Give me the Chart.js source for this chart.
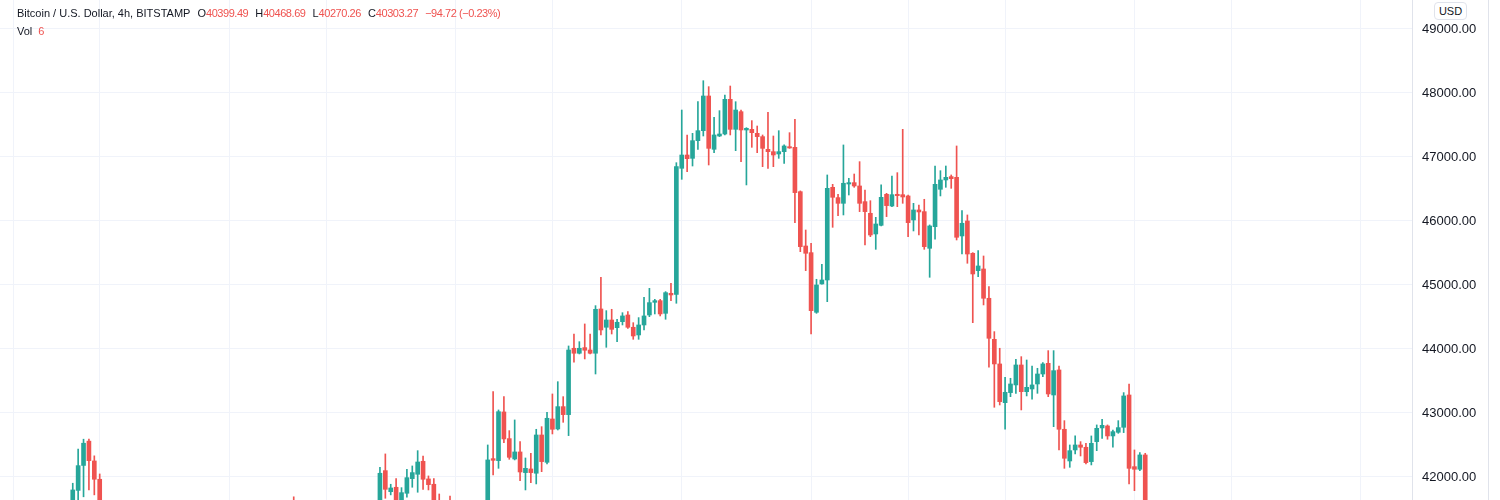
<!DOCTYPE html>
<html>
<head>
<meta charset="utf-8">
<script src="https://cdn.jsdelivr.net/npm/chart.js@4"></script>
<style>
	body { margin: 0; background: #ffffff; }
	#wrap { position: relative; width: 1500px; height: 500px; overflow: hidden; }
	#legend { position: absolute; left: 17px; top: 4px; font-family: "Liberation Sans", Arial, sans-serif; font-size: 11px; line-height: 18px; color: #131722; white-space: nowrap; }
	#legend .v { color: #ef5350; letter-spacing: -0.45px; }
	#legend .g { margin-left: 7px; }
	#usd { position: absolute; left: 1434px; top: 2px; width: 31px; height: 16px; border: 1px solid #e0e3eb; border-radius: 4px; font-family: "Liberation Sans", Arial, sans-serif; font-size: 11px; line-height: 16px; text-align: center; color: #131722; background: #fff; }
	#edge { position: absolute; left: 1488px; top: 0; width: 1px; height: 500px; background: #e0e3eb; }
</style>
</head>
<body>
<div id="wrap">
	<canvas id="chart-btc" width="1500" height="500"></canvas>
	<div id="legend">
		<div>Bitcoin / U.S. Dollar, 4h, BITSTAMP<span class="g">O<span class="v">40399.49</span></span><span class="g">H<span class="v">40468.69</span></span><span class="g">L<span class="v">40270.26</span></span><span class="g">C<span class="v">40303.27</span></span><span class="g v">−94.72 (−0.23%)</span></div>
		<div>Vol<span class="g v" style="margin-left:6px">6</span></div>
	</div>
	<div id="usd">USD</div>
	<div id="edge"></div>
</div>
<script>
// 4h bars, index = bar number. null = bar sits completely below the visible price range
const hidden = (n) => Array(n).fill(null);

const opens = [
	...hidden(13),
	41550, 41790, 42180, 42560, 42250, 41964,
	...hidden(35),
	41600,
	...hidden(15),
	41500, 42099, 41770, 41839, 41500, 41745, 41974, 42042, 42245, 41969, 41886, 41600,
	null,
	41600,
	...hidden(6),
	41600, 42286, 42255, 43016, 42599, 42281, 42391, 42068, 42125, 42058,
	42656, 42229, 42906, 42750, 43099, 42974, 44011, 43933, 44021, 43984,
	43933, 44625, 44339, 44453, 44333, 44427, 44531, 44339, 44219, 44375,
	44531, 44729, 44755, 44557, 44870, 44854, 46823, 47031, 46979, 47255,
	47411, 47953, 47120, 47328, 47359, 47901, 47432, 47708, 47422, 47432,
	47370, 47318, 47120, 47083, 47047, 47083, 47161, 47151, 46458, 45609,
	45505, 44573, 45016, 45078, 46526, 46365, 46276, 46578, 46599, 46547,
	46302, 46120, 45797, 45932, 46417, 46234, 46417, 46411, 46391, 46016,
	46172, 46146, 45573, 45911, 46495, 46641, 46693, 46682, 45766, 46000,
	45495, 45224, 45250, 44792, 44151, 43766, 43161, 43318, 43438, 43750,
	43333, 43375, 43453, 43609, 43776, 43281, 43672, 42745, 42250, 42422,
	42500, 42464, 42240, 42552, 42766, 42797, 42641, 42698, 42776, 43281,
	42161, 42120, 42344
];
const highs = [
	...hidden(13),
	41902, 42437, 42590, 42590, 42330, 42047,
	...hidden(35),
	41690,
	...hidden(15),
	42152, 42360, 41886, 41974, 41833, 42120, 42172, 42411, 42328, 42016, 41974, 41734,
	null,
	41700,
	...hidden(6),
	42500, 43333, 43047, 43255, 42724, 42891, 42552, 42297, 42370, 42745,
	42786, 43010, 43297, 43489, 43255, 44047, 44234, 44114, 44391, 44234,
	44677, 45120, 44599, 44620, 44464, 44567, 44583, 44411, 44490, 44808,
	44948, 44776, 44776, 44896, 45026, 46911, 47734, 47344, 47370, 47864,
	48192, 48099, 47620, 47724, 47969, 48109, 47864, 47734, 47458, 47568,
	47484, 47344, 47698, 47328, 47411, 47188, 47380, 47589, 46470, 45859,
	45651, 45089, 45323, 46719, 46573, 46417, 47188, 46667, 46734, 46927,
	46484, 46317, 46057, 46563, 46432, 46703, 46755, 47432, 46406, 46276,
	46250, 46339, 45938, 46859, 46786, 46859, 46719, 47172, 46161, 46094,
	45505, 45536, 45453, 44974, 44271, 44011, 43557, 43542, 43839, 43880,
	43828, 43734, 43698, 43786, 43974, 43974, 43734, 42880, 42500, 42641,
	42552, 42526, 42641, 42813, 42901, 42813, 42734, 42880, 43318, 43453,
	42422, 42380, 42370
];
const lows = [
	...hidden(13),
	41480, 41600, 41690, 41797, 41720, 41400,
	...hidden(35),
	41400,
	...hidden(15),
	41400, 41667, 41720, 41450, 41420, 41683, 41839, 41761, 41807, 41797, 41500, 41400,
	null,
	41350,
	...hidden(6),
	41500, 42031, 42135, 42536, 42276, 42266, 41943, 41797, 41911, 41891,
	42083, 42203, 42672, 42734, 42854, 42646, 43792, 43922, 43844, 43922,
	43609, 44219, 44026, 44234, 44114, 44375, 44323, 44151, 44151, 44297,
	44505, 44547, 44516, 44464, 44755, 44714, 46651, 46771, 46859, 47120,
	47328, 46875, 47067, 47318, 47344, 47344, 47099, 46927, 46563, 47151,
	47067, 46849, 46823, 46849, 46979, 46901, 47135, 45974, 45520, 45224,
	44234, 44557, 45011, 44739, 45901, 46083, 46094, 46406, 46526, 46146,
	45625, 45755, 45557, 45922, 46068, 46224, 46224, 46276, 45755, 45844,
	45781, 45557, 45120, 45714, 46391, 46526, 46510, 45703, 45484, 45339,
	44411, 45130, 44688, 43714, 43089, 43125, 42745, 43255, 43307, 43047,
	43266, 43214, 43307, 43568, 43255, 42786, 42422, 42135, 42151, 42359,
	42328, 42203, 42188, 42411, 42604, 42589, 42464, 42682, 42693, 41891,
	41786, 42099, 41300
];
const closes = [
	...hidden(13),
	41797, 42177, 42527, 42255, 41964, 41500,
	...hidden(35),
	41450,
	...hidden(15),
	42058, 41807, 41828, 41550, 41755, 41989, 42068, 42234, 41964, 41880, 41600, 41500,
	null,
	41450,
	...hidden(6),
	42266, 42260, 43020, 42594, 42307, 42391, 42078, 42135, 42068, 42656,
	42240, 42917, 42745, 43099, 42974, 43984, 43933, 44011, 43980, 43933,
	44620, 44297, 44453, 44307, 44417, 44516, 44339, 44203, 44375, 44516,
	44724, 44755, 44547, 44880, 44844, 46849, 47031, 46974, 47255, 47411,
	47953, 47135, 47344, 47359, 47901, 47432, 47734, 47422, 47448, 47380,
	47318, 47135, 47083, 47031, 47083, 47172, 47141, 46443, 45599, 45495,
	44599, 45000, 45078, 46510, 46370, 46276, 46589, 46599, 46547, 46276,
	46146, 45781, 45953, 46370, 46240, 46411, 46396, 46375, 45974, 46172,
	46141, 45599, 45922, 46573, 46641, 46682, 46661, 45745, 45964, 45484,
	45172, 45297, 44792, 44167, 43766, 43177, 43323, 43453, 43750, 43333,
	43401, 43438, 43609, 43766, 43297, 43661, 42745, 42292, 42411, 42500,
	42464, 42224, 42526, 42760, 42807, 42641, 42708, 42771, 43266, 42135,
	42120, 42344, 41500
];

// price scale ticks and the bars where a new day label / vertical grid line sits
const priceTicks = [42000, 43000, 44000, 45000, 46000, 47000, 48000, 49000];
const gridBars = [2, 18, 42, 60, 84, 102, 126, 150, 168, 186, 210, 228, 252];

const totalBars = 262; // includes the empty space on the right
const labels = Array.from({ length: totalBars }, (_, i) => String(i));

const upColor = '#26a69a';
const downColor = '#ef5350';

const bodies = opens.map((o, i) => (o == null ? null : [o, closes[i]]));
const wicks = lows.map((l, i) => (l == null ? null : [l, highs[i]]));
const colors = opens.map((o, i) => (closes[i] >= o ? upColor : downColor));

// no label overhang padding, the plot runs edge to edge like the original
function noPadding(scale) {
	scale.paddingTop = 0;
	scale.paddingBottom = 0;
	scale.paddingLeft = 0;
	scale.paddingRight = 0;
}

let btcChartCtx = document.getElementById('chart-btc');
let btcChart = new Chart(btcChartCtx, {
	type: 'bar',
	data: {
		labels: labels,
		datasets: [{
			label: 'body',
			data: bodies,
			backgroundColor: colors,
			borderWidth: 0,
			barThickness: 4,
			minBarLength: 1,
			grouped: false
		}, {
			label: 'wick',
			data: wicks,
			backgroundColor: colors,
			borderWidth: 0,
			barThickness: 1,
			grouped: false
		}]
	},
	options: {
		responsive: false,
		animation: false,
		layout: { padding: 0 },
		plugins: {
			legend: { display: false },
			tooltip: { enabled: false }
		},
		scales: {
			x: {
				offset: true,
				border: { display: false },
				grid: {
					offset: false,
					drawTicks: false,
					color: (ctx) => (gridBars.includes(ctx.index) ? '#f0f3fa' : 'rgba(0,0,0,0)')
				},
				ticks: { display: false, autoSkip: false },
				afterFit: (scale) => { scale.height = 0; noPadding(scale); }
			},
			y: {
				position: 'right',
				min: 41640,
				max: 49453,
				afterBuildTicks: (scale) => {
					scale.ticks = priceTicks.map((v) => ({ value: v }));
				},
				afterFit: (scale) => { scale.width = 88; noPadding(scale); },
				border: { color: '#e0e3eb' },
				grid: { color: '#f0f3fa', drawTicks: false },
				ticks: {
					padding: 10,
					color: '#131722',
					font: { family: 'Liberation Sans', size: 13 },
					callback: (v) => Number(v).toFixed(2)
				}
			}
		}
	}
});
</script>
</body>
</html>
